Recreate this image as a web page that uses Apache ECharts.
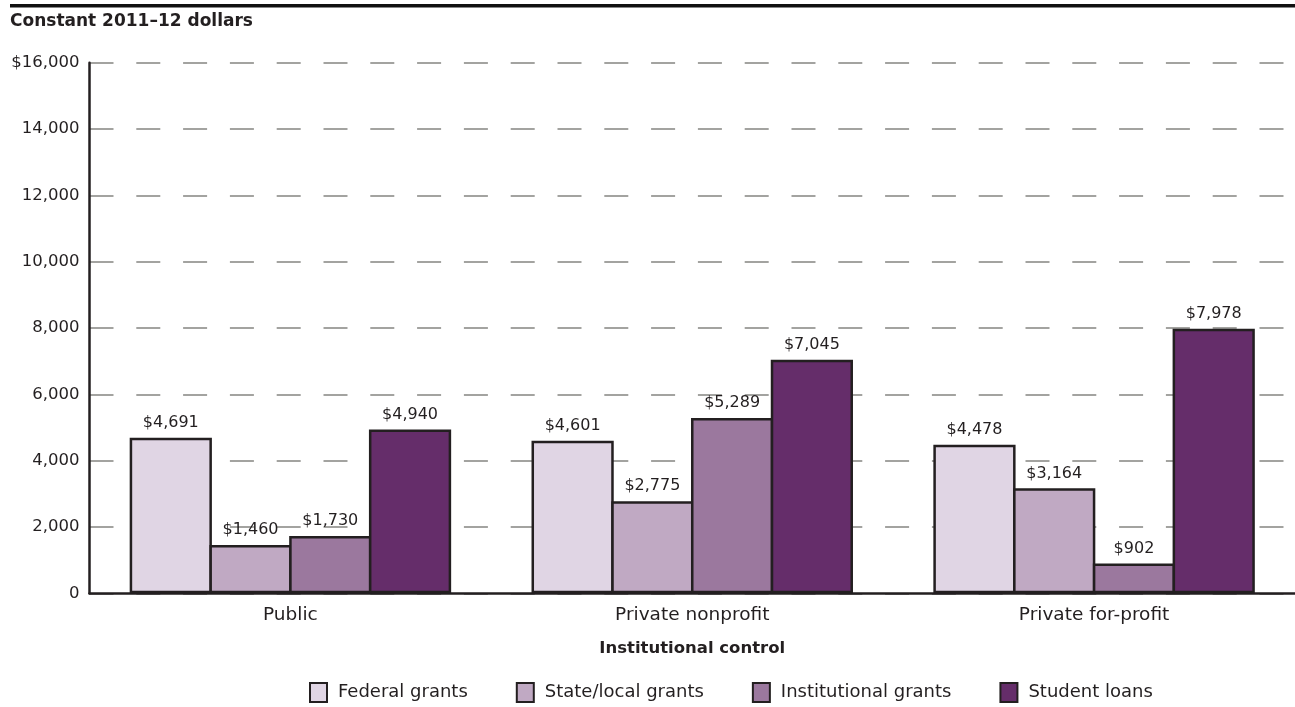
<!DOCTYPE html>
<html>
<head>
<meta charset="utf-8">
<script src="https://cdn.jsdelivr.net/npm/echarts@6/dist/echarts.min.js"></script>
<style>
  html, body { margin: 0; padding: 0; background: #fff; }
  #chart { width: 1295px; height: 707px; }
</style>
</head>
<body>
<div id="chart"></div>
<script>
// Average aid per student by institutional control
const categories = ['Public', 'Private nonprofit', 'Private for-profit'];
const seriesNames = ['Federal grants', 'State/local grants', 'Institutional grants', 'Student loans'];
const federalGrants = [4691, 4601, 4478];
const stateLocalGrants = [1460, 2775, 3164];
const institutionalGrants = [1730, 5289, 902];
const studentLoans = [4940, 7045, 7978];
const yTicks = [0, 2000, 4000, 6000, 8000, 10000, 12000, 14000, 16000];

const colors = ['#e0d5e4', '#c0a9c3', '#9b789e', '#652d6a'];
const ink = '#231f20';
const font = '"DejaVu Sans", Verdana, sans-serif';

function money(v) {
  return '$' + v.toLocaleString('en-US');
}

const values = [federalGrants, stateLocalGrants, institutionalGrants, studentLoans];

const series = seriesNames.map((name, i) => ({
  name: name,
  type: 'bar',
  data: values[i],
  barGap: '-3%',
  barCategoryGap: '20%',
  itemStyle: { color: colors[i], borderColor: ink, borderWidth: 2.5 },
  label: {
    show: true,
    position: 'top',
    distance: 7,
    formatter: p => money(p.value),
    color: ink,
    fontFamily: font,
    fontSize: 16
  },
  emphasis: { disabled: true }
}));

const chart = echarts.init(document.getElementById('chart'), null, { renderer: 'canvas' });
chart.setOption({
  animation: false,
  backgroundColor: '#fff',
  graphic: [
    {
      type: 'rect',
      shape: { x: 10, y: 4, width: 1285, height: 3.5 },
      style: { fill: '#111' }
    },
    {
      type: 'text',
      left: 10,
      top: 13,
      style: { text: 'Constant 2011\u201312 dollars', font: 'bold 17px ' + font, fill: ink }
    }
  ],
  grid: { left: 89.5, right: -6, top: 62.7, bottom: 113.7, containLabel: false },
  legend: {
    top: 677,
    left: 304,
    itemWidth: 17,
    itemHeight: 19,
    itemGap: 48,
    icon: 'rect',
    textStyle: { color: ink, fontFamily: font, fontSize: 18, padding: [0, 0, 0, 6] },
    data: seriesNames
  },
  xAxis: {
    type: 'category',
    data: categories,
    name: 'Institutional control',
    nameLocation: 'middle',
    nameGap: 47,
    nameTextStyle: { color: ink, fontFamily: font, fontSize: 16.5, fontWeight: 'bold' },
    axisLine: { lineStyle: { color: ink, width: 2.5 } },
    axisTick: { show: false },
    axisLabel: { color: ink, fontFamily: font, fontSize: 18.5, margin: 12 }
  },
  yAxis: {
    type: 'value',
    min: 0,
    max: 16000,
    interval: 2000,
    axisLine: { show: true, lineStyle: { color: ink, width: 2.5 } },
    axisTick: { show: false },
    axisLabel: {
      color: ink,
      fontFamily: font,
      fontSize: 16.5,
      margin: 10,
      formatter: v => (v === yTicks[yTicks.length - 1] ? money(v) : v.toLocaleString('en-US'))
    },
    splitLine: {
      show: true,
      lineStyle: { color: '#a3a3a0', width: 2, type: [24, 22.8], dashOffset: 0 }
    }
  },
  series: series
});
</script>
</body>
</html>
